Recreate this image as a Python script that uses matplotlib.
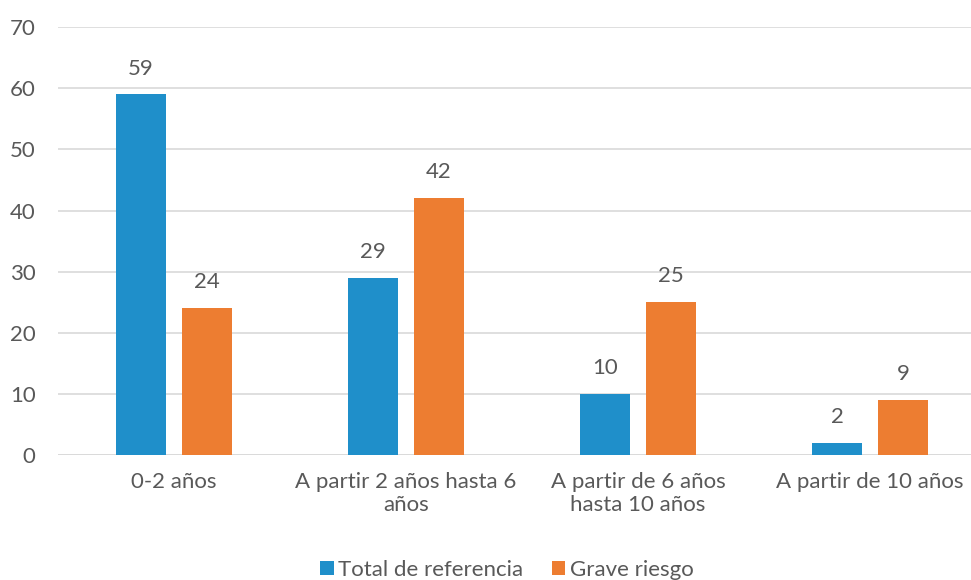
import matplotlib
matplotlib.use('Agg')
import matplotlib.pyplot as plt
import numpy as np

plt.rcParams['font.family'] = ['Lato', 'DejaVu Sans']

categorias = ['0-2 años', 'A partir 2 años hasta 6\naños',
              'A partir de 6 años\nhasta 10 años', 'A partir de 10 años']
total_ref = [59, 29, 10, 2]
grave = [24, 42, 25, 9]
series = ['Total de referencia', 'Grave riesgo']

C_BLUE, C_ORANGE = '#1F8FCA', '#ED7D31'
GRAY = '#595959'
FS = 16

fig = plt.figure(figsize=(9.71, 5.8), dpi=100)
ax = fig.add_axes([0.0597, 0.2155, 0.9403, 0.7375])

x = np.arange(len(categorias))
w = 0.216
off = 0.142
b1 = ax.bar(x - off, total_ref, w, color=C_BLUE, label=series[0], zorder=3)
b2 = ax.bar(x + off, grave, w, color=C_ORANGE, label=series[1], zorder=3)

for bars, vals in [(b1, total_ref), (b2, grave)]:
    for bar, v in zip(bars, vals):
        ax.text(bar.get_x() + bar.get_width() / 2, v + 2.6, f'{v}',
                ha='center', va='bottom', fontsize=FS, color=GRAY)

ax.set_ylim(0, 70)
ax.set_yticks(range(0, 71, 10))
ax.set_xlim(-0.5, 3.435)
ax.set_xticks(x)
ax.set_xticklabels(categorias, fontsize=FS, color=GRAY, linespacing=1.2)
ax.tick_params(axis='y', labelsize=FS, labelcolor=GRAY, length=0, pad=16)
ax.tick_params(axis='x', length=0, pad=12)
ax.grid(axis='y', color='#D9D9D9', linewidth=1.2, zorder=0)
for s in ax.spines.values():
    s.set_visible(False)
ax.axhline(0, color='#D9D9D9', linewidth=1.2, zorder=1)

fig.legend(handles=[b1, b2], labels=series, loc='lower center',
           bbox_to_anchor=(0.522, -0.034), ncol=2, frameon=False,
           fontsize=FS, labelcolor=GRAY, handlelength=0.6,
           handleheight=0.6, handletextpad=0.2, columnspacing=1.3)

plt.savefig('out.png', dpi=100)
